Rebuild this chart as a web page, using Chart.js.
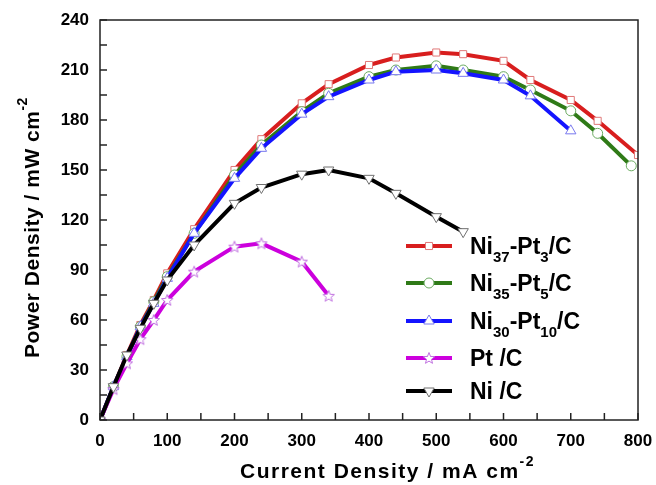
<!DOCTYPE html>
<html lang="en">
<head>
<meta charset="UTF-8" />
<title>Power Density vs Current Density</title>
<script src="https://cdn.jsdelivr.net/npm/chart.js"></script>
<style>
  html, body { margin: 0; padding: 0; background: #fff; }
  canvas { display: block; }
</style>
</head>
<body>
<canvas id="pd" width="656" height="485"></canvas>
<script>
  // current density (mA cm-2) for each series
  const currentRed   = [0, 20, 40, 60, 80, 100, 140, 200, 240, 300, 340, 400, 440, 500, 540, 600, 640, 700, 740, 800];
  const currentGreen = [0, 20, 40, 60, 80, 100, 140, 200, 240, 300, 340, 400, 440, 500, 540, 600, 640, 700, 740, 790];
  const currentBlue  = [0, 20, 40, 60, 80, 100, 140, 200, 240, 300, 340, 400, 440, 500, 540, 600, 640, 700];
  const currentPt    = [0, 20, 40, 60, 80, 100, 140, 200, 240, 300, 340];
  const currentNi    = [0, 20, 40, 60, 80, 100, 140, 200, 240, 300, 340, 400, 440, 500, 540];

  // power density (mW cm-2)
  const ni37pt3  = [0, 20, 39, 57, 72, 88, 114.5, 150, 168.5, 190, 201.5, 213, 217.5, 220.5, 219.5, 215.5, 204, 192, 179.5, 159];
  const ni35pt5  = [0, 20, 38, 56, 71, 86, 112, 147, 165, 185, 196, 206, 210, 212.5, 210, 206, 198, 185.5, 172, 152.5];
  const ni30pt10 = [0, 20, 38, 56, 70, 85, 112, 145, 163, 183.5, 194, 204, 209, 210, 208, 204, 194.5, 173.5];
  const ptC      = [0, 18.5, 34, 48.5, 60, 72, 89, 104, 106, 95, 74.5];
  const niC      = [0, 20, 39, 55, 70, 84, 105, 130, 139.5, 147.5, 150, 145, 136, 122, 113];

  const xTicks = [0, 100, 200, 300, 400, 500, 600, 700, 800];
  const yTicks = [0, 30, 60, 90, 120, 150, 180, 210, 240];

  // legend labels: [main, sub, main, sub, main]
  const legendParts = [
    ['Ni', '37', '-Pt', '3', '/C'],
    ['Ni', '35', '-Pt', '5', '/C'],
    ['Ni', '30', '-Pt', '10', '/C'],
    ['Pt /C'],
    ['Ni /C']
  ];

  const FONT = "'Liberation Sans', Arial, sans-serif";

  function starImage(color) {
    const c = document.createElement('canvas');
    c.width = 14; c.height = 14;
    const g = c.getContext('2d');
    g.beginPath();
    for (let i = 0; i < 10; i++) {
      const r = i % 2 === 0 ? 6 : 2.6;
      const a = -Math.PI / 2 + i * Math.PI / 5;
      const px = 7 + r * Math.cos(a), py = 7.5 + r * Math.sin(a);
      if (i === 0) g.moveTo(px, py); else g.lineTo(px, py);
    }
    g.closePath();
    g.fillStyle = '#fff';
    g.fill();
    g.lineWidth = 1;
    g.strokeStyle = color;
    g.stroke();
    return c;
  }

  const pairs = (xs, ys) => xs.map((x, i) => ({ x: x, y: ys[i] }));

  function series(label, xs, ys, line, marker, style, order, extra) {
    return Object.assign({
      label: label,
      data: pairs(xs, ys),
      borderColor: line,
      borderWidth: 4,
      pointStyle: style,
      pointRadius: 5,
      pointBorderColor: marker,
      pointBackgroundColor: '#fff',
      pointBorderWidth: 1,
      tension: 0,
      order: order
    }, extra || {});
  }

  const datasets = [
    series('Ni37-Pt3/C', currentRed, ni37pt3, '#d81e1e', '#e07878', 'rect', 5),
    series('Ni35-Pt5/C', currentGreen, ni35pt5, '#2f7a17', '#6aaa60', 'circle', 4),
    series('Ni30-Pt10/C', currentBlue, ni30pt10, '#1414ff', '#7878ee', 'triangle', 3, { pointRadius: 6 }),
    series('Pt /C', currentPt, ptC, '#cc00dd', '#c070e0', starImage('#c070e0'), 2),
    series('Ni /C', currentNi, niC, '#000', '#707070', 'triangle', 1, { pointRadius: 6, pointRotation: 180 })
  ];

  const frame = {
    id: 'frame',
    afterDraw(chart) {
      const g = chart.ctx;
      const a = chart.chartArea;
      const xs = chart.scales.x, ys = chart.scales.y;
      g.save();
      g.strokeStyle = '#222';
      g.lineWidth = 1.5;
      g.strokeRect(a.left, a.top, a.right - a.left, a.bottom - a.top);
      // inward ticks
      for (let v = 0; v <= 800; v += 50) {
        const px = xs.getPixelForValue(v);
        g.beginPath(); g.moveTo(px, a.bottom); g.lineTo(px, a.bottom - 7); g.stroke();
      }
      for (let v = 0; v <= 240; v += 15) {
        const py = ys.getPixelForValue(v);
        g.beginPath(); g.moveTo(a.left, py); g.lineTo(a.left + 7, py); g.stroke();
      }

      // axis titles with superscripts
      g.fillStyle = '#000';
      g.textBaseline = 'alphabetic';
      const big = 'bold 21px ' + FONT, small = 'bold 14px ' + FONT;
      function drawTitle(t, x, y, sp) {
        g.letterSpacing = sp;
        g.font = big; g.fillText(t, x, y);
        const w1 = g.measureText(t).width;
        g.font = small; g.fillText('-2', x + w1, y - 12);
        g.letterSpacing = '0px';
      }
      drawTitle('Current Density / mA cm', 240, 478, '1.5px');
      g.save();
      g.translate(39, 358);
      g.rotate(-Math.PI / 2);
      drawTitle('Power Density / mW cm', 0, 0, '0.5px');
      g.restore();

      // legend
      const rowsY = [246, 283, 321, 358, 391];
      chart.data.datasets.forEach((d, i) => {
        const y = rowsY[i];
        g.strokeStyle = d.borderColor;
        g.lineWidth = 4;
        g.beginPath(); g.moveTo(406, y); g.lineTo(452, y); g.stroke();
        g.fillStyle = '#fff';
        g.strokeStyle = d.pointBorderColor;
        g.lineWidth = 1;
        Chart.helpers.drawPoint(g, {
          pointStyle: d.pointStyle,
          radius: d.pointRadius,
          rotation: d.pointRotation || 0,
          borderWidth: 1
        }, 429, y);
        g.fillStyle = '#000';
        let x = 470;
        legendParts[i].forEach((p, k) => {
          const sub = k % 2 === 1;
          g.font = sub ? 'bold 15px ' + FONT : 'bold 23px ' + FONT;
          g.fillText(p, x, sub ? y + 16 : y + 8);
          x += g.measureText(p).width;
        });
      });
      g.restore();
    }
  };

  new Chart(document.getElementById('pd').getContext('2d'), {
    type: 'line',
    data: { datasets: datasets },
    options: {
      responsive: false,
      animation: false,
      layout: { padding: { top: 20, right: 18, left: 0, bottom: 0 } },
      plugins: { legend: { display: false }, tooltip: { enabled: false } },
      scales: {
        x: {
          type: 'linear',
          min: 0, max: 800,
          afterBuildTicks: s => { s.ticks = xTicks.map(v => ({ value: v })); },
          afterFit: s => { s.height = 65; s.paddingLeft = 0; s.paddingRight = 0; },
          grid: { display: false, drawTicks: false },
          border: { display: false },
          ticks: { color: '#000', padding: 11, font: { family: FONT, size: 17, weight: 'bold' } }
        },
        y: {
          type: 'linear',
          min: 0, max: 240,
          afterBuildTicks: s => { s.ticks = yTicks.map(v => ({ value: v })); },
          afterFit: s => { s.width = 100; s.paddingTop = 0; s.paddingBottom = 0; },
          grid: { display: false, drawTicks: false },
          border: { display: false },
          ticks: { color: '#000', padding: 11, font: { family: FONT, size: 17, weight: 'bold' } }
        }
      }
    },
    plugins: [frame]
  });
</script>
</body>
</html>
